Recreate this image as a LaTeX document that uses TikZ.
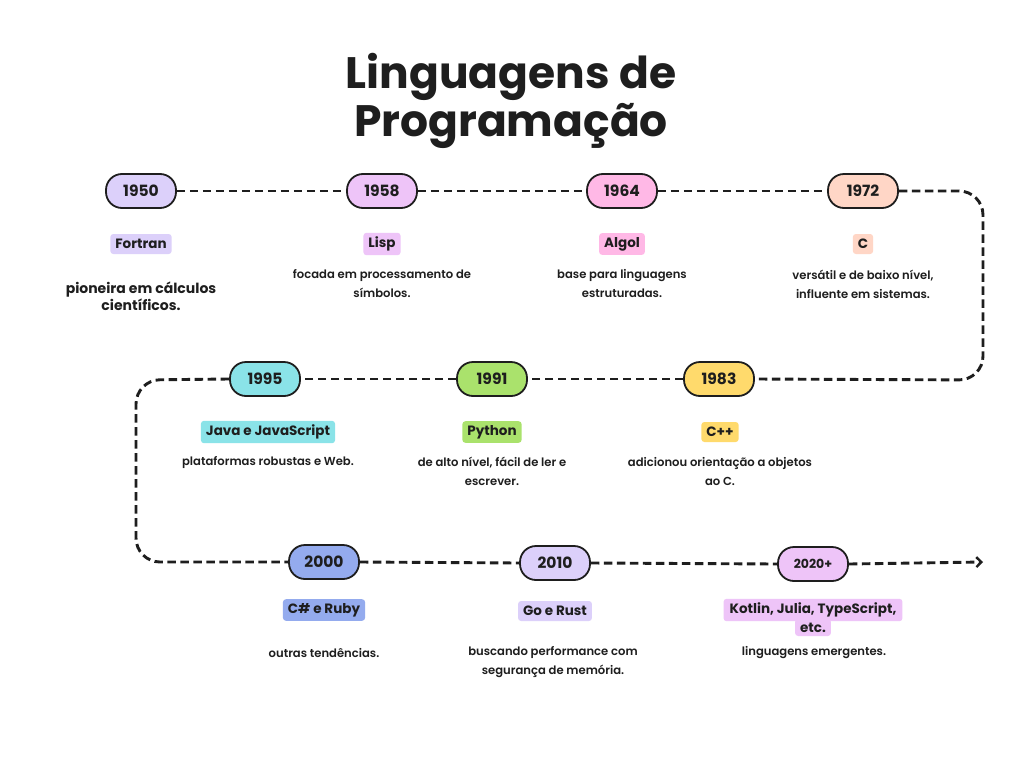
\documentclass[tikz,border=0pt]{standalone}
\usepackage{fontspec}
\setmainfont{Poppins}
\newfontfamily\descfont{Poppins SemiBold}
\usetikzlibrary{arrows.meta}
\definecolor{ink}{HTML}{1E1E1E}
\definecolor{cLav}{HTML}{DCD0FA}
\definecolor{cPinkLav}{HTML}{EEC4F8}
\definecolor{cPink}{HTML}{FFB8E6}
\definecolor{cPeach}{HTML}{FFD6C6}
\definecolor{cCyan}{HTML}{8AE3E8}
\definecolor{cGreen}{HTML}{AAE26C}
\definecolor{cYellow}{HTML}{FFDA6C}
\definecolor{cBlue}{HTML}{94ABEE}
\tikzset{
  pill/.style={draw=ink, line width=1.8pt, rounded corners=16pt, minimum width=70pt, minimum height=34pt, inner sep=0pt, font=\bfseries\fontsize{15.5}{15}\selectfont, text=ink},
  lang/.style={rounded corners=3pt, inner xsep=5pt, inner ysep=4pt, minimum height=20pt, font=\bfseries\fontsize{13.5}{15}\selectfont, text=ink, align=center},
  desc/.style={font=\descfont\fontsize{11.6}{19}\selectfont, text=ink, align=center},
  dashline/.style={draw=ink, line width=2.9pt, dash pattern=on 8.5pt off 4.5pt},
}
\begin{document}
\begin{tikzpicture}[x=1pt,y=-1pt]
\useasboundingbox[fill=white] (0,0) rectangle (1024,768);
% title
\node[font=\bfseries\fontsize{44}{48}\selectfont, text=ink, align=center] (title) at (511,101) {Linguagens de\\Programação};
% row 1 pills
\node[pill, fill=cLav] (p1950) at (141,191) {1950};
\node[pill, fill=cPinkLav] (p1958) at (382,191) {1958};
\node[pill, fill=cPink] (p1964) at (622,191) {1964};
\node[pill, fill=cPeach] (p1972) at (863,191) {1972};
% row 2 pills
\node[pill, fill=cCyan] (p1995) at (265,379) {1995};
\node[pill, fill=cGreen] (p1991) at (492,379) {1991};
\node[pill, fill=cYellow] (p1983) at (719,379) {1983};
% row 3 pills
\node[pill, fill=cBlue] (p2000) at (324,562) {2000};
\node[pill, fill=cLav] (p2010) at (555,563) {2010};
\node[pill, fill=cPinkLav, font=\bfseries\fontsize{12.5}{12}\selectfont] (p2020) at (813,564) {2020+};
% connectors
\coordinate (r1) at (983,191);
\coordinate (r2) at (983,380);
\coordinate (l1) at (136,380);
\coordinate (l2) at (136,562);
\coordinate (end) at (983,562);
\draw[dashline] (p1950) -- (p1958);
\draw[dashline] (p1958) -- (p1964);
\draw[dashline] (p1964) -- (p1972);
\draw[dashline, rounded corners=24pt] (p1972.east) -- (r1) -- (r2) -- (p1983.east);
\draw[dashline] (p1983) -- (p1991);
\draw[dashline] (p1991) -- (p1995);
\draw[dashline, rounded corners=24pt] (p1995.west) -- (l1) -- (l2) -- (p2000.west);
\draw[dashline] (p2000.east) -- (p2010.west);
\draw[dashline] (p2010.east) -- (p2020.west);
\draw[dashline, -{Straight Barb[length=5pt,width=10pt,line width=2.4pt]}] (p2020.east) -- (end);
% labels row 1
\node[lang, fill=cLav] (lFortran) at (141,244) {Fortran};
\node[lang, fill=cPinkLav] (lLisp) at (382,244) {Lisp};
\node[lang, fill=cPink] (lAlgol) at (622,244) {Algol};
\node[lang, fill=cPeach] (lC) at (863,244) {C};
\node[font=\bfseries\fontsize{14}{16.5}\selectfont, text=ink, align=center] (dFortran) at (141,296) {pioneira em cálculos\\científicos.};
\node[desc] (dLisp) at (382,284) {focada em processamento de\\símbolos.};
\node[desc] (dAlgol) at (622,284) {base para linguagens\\estruturadas.};
\node[desc] (dC) at (863,284) {versátil e de baixo nível,\\influente em sistemas.};
% labels row 2
\node[lang, fill=cCyan] (lJava) at (268,432) {Java e JavaScript};
\node[lang, fill=cGreen] (lPython) at (492,432) {Python};
\node[lang, fill=cYellow] (lCpp) at (720,432) {C++};
\node[desc] (dJava) at (268,462) {plataformas robustas e Web.};
\node[desc] (dPython) at (492,471.5) {de alto nível, fácil de ler e\\escrever.};
\node[desc] (dCpp) at (720,471.5) {adicionou orientação a objetos\\ao C.};
% labels row 3
\node[lang, fill=cBlue] (lCs) at (324,610) {C\# e Ruby};
\node[lang, fill=cLav] (lGo) at (555,611) {Go e Rust};
\node[lang, fill=cPinkLav, inner ysep=2pt, minimum height=17pt] (lKotlin2) at (813,627.5) {etc.};
\node[lang, fill=cPinkLav, inner xsep=6pt] (lKotlin) at (813,610) {Kotlin, Julia, TypeScript,};
\node[desc] (dCs) at (324,653) {outras tendências.};
\node[desc] (dGo) at (553,662.5) {buscando performance com\\segurança de memória.};
\node[desc] (dKotlin) at (814,653) {linguagens emergentes.};
\end{tikzpicture}
\end{document}
